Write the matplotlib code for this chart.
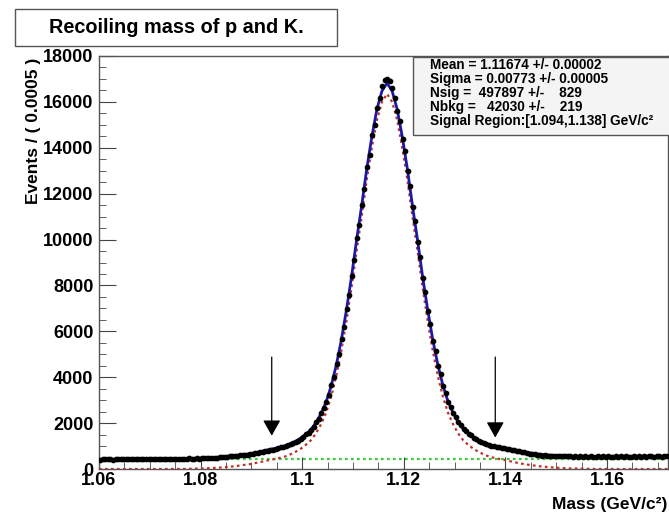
import matplotlib
matplotlib.use("Agg")
import matplotlib.pyplot as plt
from matplotlib.patches import Rectangle, FancyArrowPatch
from matplotlib.ticker import MultipleLocator

plt.rcParams['font.family'] = ['Liberation Sans', 'DejaVu Sans']

# ---------------- data ----------------
bin_start = 1.06025
bin_width = 0.0005
counts = [
    405, 432, 418, 440, 425, 412, 438, 427, 445, 420,
    431, 418, 442, 426, 437, 415, 440, 433, 421, 446,
    428, 439, 417, 444, 435, 426, 451, 432, 440, 424,
    447, 436, 452, 430, 445, 458, 438, 450, 462, 441,
    468, 481, 472, 490, 485, 498, 492, 510, 503, 518,
    536, 552, 548, 570, 565, 590, 598, 612, 628, 655,
    672, 695, 710, 728, 752, 770, 798, 825, 848, 880,
    918, 950, 978, 1010, 1045, 1085, 1130, 1180, 1235, 1300,
    1410, 1520, 1590, 1720, 1840, 2030, 2190, 2420, 2640, 2930,
    3240, 3650, 4020, 4560, 5010, 5680, 6210, 6980, 7580, 8420,
    9100, 10050, 10650, 11520, 12200, 13150, 13700, 14550, 15000, 15750,
    16150, 16700, 16950, 17000, 16900, 16600, 16150, 15600, 15150, 14400,
    13850, 13000, 12350, 11420, 10800, 9900, 9250, 8320, 7700, 6880,
    6320, 5600, 5130, 4500, 4120, 3610, 3320, 2910, 2710, 2420,
    2260, 2030, 1910, 1730, 1660, 1530, 1475, 1360, 1320, 1230,
    1180, 1150, 1085, 1060, 1010, 995, 955, 948, 915, 905,
    872, 860, 822, 812, 775, 768, 730, 722, 680, 662,
    645, 638, 610, 608, 585, 590, 570, 578, 560, 566,
    558, 570, 548, 556, 545, 552, 540, 548, 535, 545,
    538, 550, 532, 546, 540, 528, 552, 536, 545, 530,
    548, 535, 542, 555, 531, 547, 540, 552, 536, 544,
    550, 538, 556, 541, 547, 535, 553, 545, 540, 558,
    548, 542, 555, 546,
]
bin_centers = [bin_start + bin_width * i for i in range(len(counts))]

curve_x = [
    1.0600, 1.0700, 1.0717, 1.0767, 1.0807, 1.0837, 1.0867, 1.0897, 1.0917, 1.0927,
    1.0937, 1.0947, 1.0957, 1.0967, 1.0977, 1.0987, 1.0997, 1.1007, 1.1017, 1.1027,
    1.1037, 1.1047, 1.1057, 1.1067, 1.1077, 1.1087, 1.1097, 1.1107, 1.1117, 1.1127,
    1.1137, 1.1147, 1.1157, 1.1167, 1.1177, 1.1187, 1.1197, 1.1207, 1.1217, 1.1227,
    1.1237, 1.1247, 1.1257, 1.1267, 1.1277, 1.1287, 1.1297, 1.1307, 1.1317, 1.1327,
    1.1337, 1.1347, 1.1357, 1.1367, 1.1377, 1.1387, 1.1397, 1.1407, 1.1417, 1.1437,
    1.1467, 1.1497, 1.1527, 1.1567, 1.1617, 1.1720,
]
signal_curve = [
    0, 0, 0, 5, 25, 60, 120, 210, 300, 350,
    400, 440, 490, 550, 640, 750, 880, 1050, 1250, 1550,
    1950, 2450, 3150, 4050, 5150, 6450, 7900, 9500, 11000, 12600,
    14000, 15200, 16000, 16350, 16000, 15200, 14000, 12600, 11000, 9500,
    7900, 6450, 5150, 4050, 3150, 2450, 1950, 1550, 1250, 1050,
    880, 750, 640, 550, 490, 440, 400, 350, 300, 210,
    120, 60, 25, 5, 0, 0,
]
total_curve = [
    420, 432, 435, 445, 473, 510, 573, 665, 756, 807,
    858, 899, 950, 1011, 1102, 1213, 1344, 1515, 1716, 2017,
    2418, 2919, 3620, 4521, 5622, 6923, 8374, 9975, 11476, 13076,
    14476, 15677, 16477, 16820, 16472, 15673, 14475, 13077, 11478, 9980,
    8382, 6934, 5636, 4538, 3640, 2942, 2444, 2046, 1748, 1550,
    1382, 1254, 1146, 1058, 1000, 952, 914, 866, 818, 731,
    645, 588, 556, 539, 537, 545,
]
bkg_x = [1.06, 1.172]
bkg_level = [450, 450]

signal_region = [1.094, 1.138]
arrow_top = 5000
arrow_tip = [1330, 1250]

stats_lines = [
    "Mean = 1.11674 +/- 0.00002",
    "Sigma = 0.00773 +/- 0.00005",
    "Nsig =  497897 +/-    829",
    "Nbkg =   42030 +/-    219",
    "Signal Region:[1.094,1.138] GeV/c²",
]

# ---------------- figure ----------------
W, H = 669, 513
fig = plt.figure(figsize=(W / 100, H / 100), dpi=100)
ax = fig.add_axes([99 / W, 1 - 469 / H, (668 - 99) / W, (469 - 56) / H])

ax.plot(bkg_x, bkg_level, color='#33cc33', lw=1.6, ls=(0, (1.2, 1.5)), zorder=2)
ax.plot(curve_x, signal_curve, color='#c0302a', lw=1.6, ls=(0, (1.2, 1.5)), zorder=3)
ax.plot(curve_x, total_curve, color='#1a1aa8', lw=2.0, zorder=4)
ax.plot(bin_centers, counts, 'o', color='black', ms=3.1, zorder=5)

for xr, tip in zip(signal_region, arrow_tip):
    arr = FancyArrowPatch((xr, arrow_top), (xr, tip),
                          arrowstyle='-|>,head_length=0.8,head_width=0.45',
                          color='black', lw=0.9, mutation_scale=12, zorder=6)
    ax.add_patch(arr)

ax.set_xlim(1.06, 1.172)
ax.set_ylim(0, 18000)
ax.xaxis.set_major_locator(MultipleLocator(0.02))
ax.xaxis.set_minor_locator(MultipleLocator(0.005))
ax.yaxis.set_major_locator(MultipleLocator(2000))
ax.yaxis.set_minor_locator(MultipleLocator(500))
ax.set_xticks([1.06, 1.08, 1.10, 1.12, 1.14, 1.16])
ax.set_xticklabels(['1.06', '1.08', '1.1', '1.12', '1.14', '1.16'])

ax.tick_params(axis='both', which='both', direction='in', labelsize=13,
               top=False, right=False, color='#444444')
ax.tick_params(axis='y', which='major', length=12, pad=4)
ax.tick_params(axis='y', which='minor', length=5)
ax.tick_params(axis='x', which='major', length=8.5, pad=2.5)
ax.tick_params(axis='x', which='minor', length=5)
for lab in ax.get_xticklabels() + ax.get_yticklabels():
    lab.set_fontweight('bold')
for s in ax.spines.values():
    s.set_color('#555555')
    s.set_linewidth(1.0)

fig.text(34 / W, 1 - 58 / H, "Events / ( 0.0005 )", rotation=90,
         ha='center', va='top', fontsize=12.5, fontweight='bold')
fig.text(667 / W, 1 - 511.5 / H, "Mass (GeV/c²)", ha='right', va='bottom',
         fontsize=12.5, fontweight='bold')

# title box
fig.patches.append(Rectangle((15 / W, 1 - 46 / H), 322 / W, 37 / H,
                             transform=fig.transFigure, fill=True, facecolor='white',
                             edgecolor='#555555', lw=1.0))
fig.text(176 / W, 1 - 27.5 / H, "Recoiling mass of p and K.", ha='center', va='center',
         fontsize=14.3, fontweight='bold')

# stats box
fig.patches.append(Rectangle((413 / W, 1 - 135 / H), (W - 413) / W + 0.01, 78 / H,
                             transform=fig.transFigure, fill=True, facecolor='#f4f4f4',
                             edgecolor='#555555', lw=1.0, zorder=10))
ys = [65, 79, 93, 107, 121]
for line, yy in zip(stats_lines, ys):
    fig.text(430 / W, 1 - yy / H, line, ha='left', va='center', fontsize=9.8,
             fontweight='bold', zorder=11)

fig.savefig("out.png", dpi=100)
